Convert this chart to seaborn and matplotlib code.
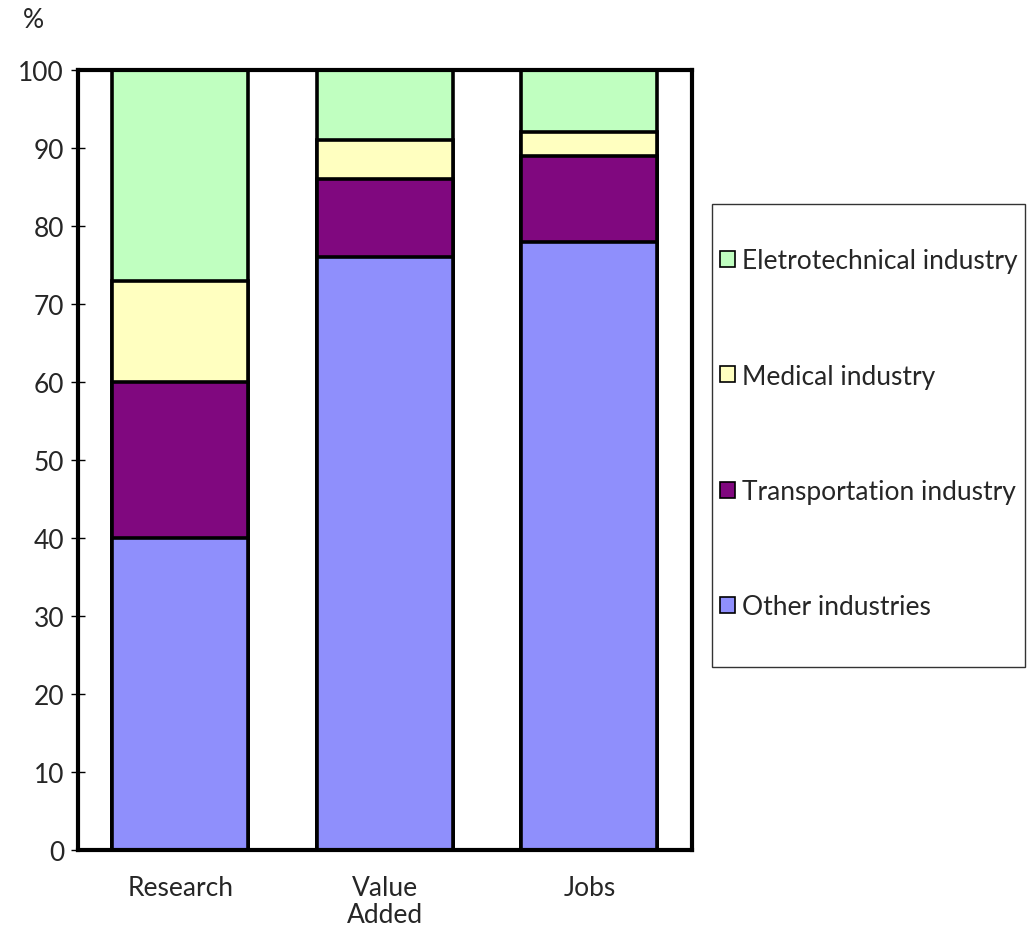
import matplotlib
matplotlib.use("Agg")
import matplotlib.pyplot as plt
import seaborn as sns
import pandas as pd
import numpy as np
from matplotlib.patches import Patch, Rectangle

sns.set_theme(style="white")
plt.rcParams["font.family"] = ["Lato", "DejaVu Sans"]

categories = ["Research", "Value\nAdded", "Jobs"]
series_names = ["Other industries", "Transportation industry",
                "Medical industry", "Eletrotechnical industry"]
other = [40, 76, 78]
transport = [20, 10, 11]
medical = [13, 5, 3]
electro = [27, 9, 8]
colors = ["#8f8ffc", "#80087f", "#ffffc0", "#c0ffc0"]
y_ticks = [0, 10, 20, 30, 40, 50, 60, 70, 80, 90, 100]

layers = [other, transport, medical, electro]
cum = np.cumsum(np.array(layers), axis=0)

FS = 19

fig = plt.figure(figsize=(10.28, 9.29), dpi=100)
ax = fig.add_axes([0.0759, 0.084, 0.597, 0.8396])

# stacked bars: draw cumulative totals from the top segment down
for i in range(len(layers) - 1, -1, -1):
    df = pd.DataFrame({"cat": categories, "val": cum[i]})
    sns.barplot(data=df, x="cat", y="val", color=colors[i], saturation=1,
                width=0.665, edgecolor="black", linewidth=2.6, ax=ax)

ax.set_xlim(-0.5, 2.5)
ax.set_ylim(0, 100)
ax.set_yticks(y_ticks)
ax.set_xlabel("")
ax.set_ylabel("")
for s in ax.spines.values():
    s.set_visible(True)
    s.set_color("black")
    s.set_linewidth(3)
ax.tick_params(axis="y", direction="inout", length=10, width=1, color="black",
               labelsize=FS, pad=5, left=True)
ax.tick_params(axis="x", length=0, labelsize=FS, pad=18)
for t in ax.get_xticklabels():
    t.set_linespacing(1.1)

fig.text(0.033, 0.978, "%", fontsize=FS, ha="center", va="center")

# legend frame
fig.patches.append(Rectangle((0.6926, 0.281), 0.3044, 0.4983,
                             transform=fig.transFigure, facecolor="white",
                             edgecolor="#333333", linewidth=1, zorder=0))

handles = [Patch(facecolor=colors[i], edgecolor="black", linewidth=1.2,
                 label=series_names[i]) for i in range(3, -1, -1)]
leg = fig.legend(handles=handles, loc="center left",
                 bbox_to_anchor=(0.7004, 0.532), frameon=False,
                 fontsize=FS, handlelength=0.55, handleheight=0.55,
                 handletextpad=0.3, labelspacing=3.42, borderpad=0,
                 borderaxespad=0)

fig.savefig("out.png", dpi=100)
